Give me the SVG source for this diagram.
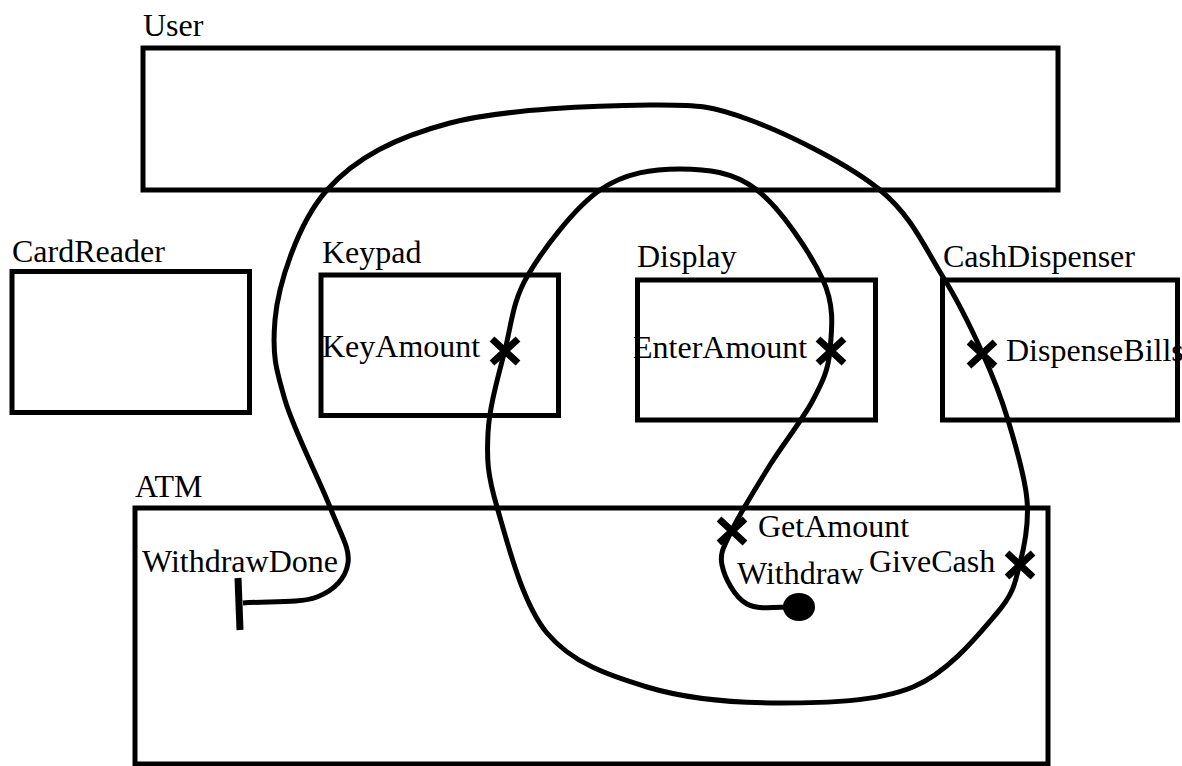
<svg xmlns="http://www.w3.org/2000/svg" width="1182" height="766" viewBox="0 0 1182 766">
  <style>
    .box { fill: none; stroke: #000; stroke-width: 5; }
    .lbl { font-family: "Liberation Serif", "Times New Roman", serif; font-size: 32px; fill: #000; }
    .path { fill: none; stroke: #000; stroke-width: 5; stroke-linejoin: round; }
    .mark { fill: none; stroke: #000; stroke-width: 7; stroke-linecap: butt; }
  </style>
  <defs>
    <path id="xmark" class="mark" d="M-13,-12 L13,12 M-13,12 L13,-12"/>
  </defs>
  <rect width="1182" height="766" fill="#fff"/>

  <g id="User">
    <text class="lbl" x="143" y="36">User</text>
    <rect class="box" x="143" y="48" width="915" height="142"/>
  </g>

  <g id="CardReader">
    <text class="lbl" x="12" y="262">CardReader</text>
    <rect class="box" x="12" y="271.5" width="237.5" height="141"/>
  </g>

  <g id="Keypad">
    <text class="lbl" x="322" y="263">Keypad</text>
    <text class="lbl" x="322" y="357">KeyAmount</text>
    <rect class="box" x="321" y="275" width="237.5" height="140.5"/>
  </g>

  <g id="Display">
    <text class="lbl" x="637" y="267">Display</text>
    <text class="lbl" x="633" y="358">EnterAmount</text>
    <rect class="box" x="637.5" y="280" width="238" height="140"/>
  </g>

  <g id="CashDispenser">
    <text class="lbl" x="943" y="267">CashDispenser</text>
    <text class="lbl" x="1006" y="361">DispenseBills</text>
    <rect class="box" x="942.5" y="280" width="235" height="140"/>
  </g>

  <g id="ATM">
    <text class="lbl" x="135" y="497">ATM</text>
    <text class="lbl" x="142" y="572">WithdrawDone</text>
    <text class="lbl" x="758" y="537">GetAmount</text>
    <text class="lbl" x="737" y="584">Withdraw</text>
    <text class="lbl" x="869" y="572">GiveCash</text>
    <rect class="box" x="135" y="508" width="913" height="256"/>
  </g>

  <g id="connectors">
    <!-- withdraw scenario path, from the start dot to the end bar -->
    <path class="path" d="M799,607
      C782,606 759.8,611 747,604
      C734.2,597 724.5,577.3 722,565
      C719.5,552.7 724,546.7 732,530
      C740,513.3 756.5,486.7 770,465
      C783.5,443.3 803,419.2 813,400
      C823,380.8 828.3,370 830,350
      C831.7,330 835.2,306.7 823,280
      C810.8,253.3 780.8,208.5 757,190
      C733.2,171.5 706.2,169 680,169
      C653.8,169 625.3,172.3 600,190
      C574.7,207.7 543.8,248.3 528,275
      C512.2,301.7 511.7,323.7 505,350
      C498.3,376.3 489.3,406.8 488,433
      C486.7,459.2 487.2,473.7 497,507
      C506.8,540.3 522,603 547,633
      C572,663 608.2,675.3 647,687
      C685.8,698.7 735.7,703 780,703
      C824.3,703 876.8,702 913,687
      C949.2,672 979.2,633.7 997,613
      C1014.8,592.3 1015,581.8 1020,563
      C1025,544.2 1029,523.8 1027,500
      C1025,476.2 1015.5,444.7 1008,420
      C1000.5,395.3 992.8,375.8 982,352
      C971.2,328.2 960,304 943,277
      C926,250 912.2,216.2 880,190
      C847.8,163.8 788.3,134.2 750,120
      C711.7,105.8 700,104.5 650,105
      C600,105.5 503.8,108.8 450,123
      C396.2,137.2 356.2,157.2 327,190
      C297.8,222.8 278,285 275,320
      C272,355 275.8,368.8 285,400
      C294.2,431.2 319.5,479.8 330,507
      C340.5,534.2 350.2,548 348,563
      C345.8,578 334.5,590.3 317,597
      C299.5,603.7 267.7,601 243,603"/>
    <ellipse cx="799" cy="607" rx="16" ry="14" fill="#000"/>
    <line x1="238" y1="578" x2="240" y2="630" stroke="#000" stroke-width="7"/>
    <use href="#xmark" x="505" y="351"/>
    <use href="#xmark" x="831" y="351"/>
    <use href="#xmark" x="982" y="354"/>
    <use href="#xmark" x="732" y="531"/>
    <use href="#xmark" x="1020" y="565"/>
  </g>
</svg>
